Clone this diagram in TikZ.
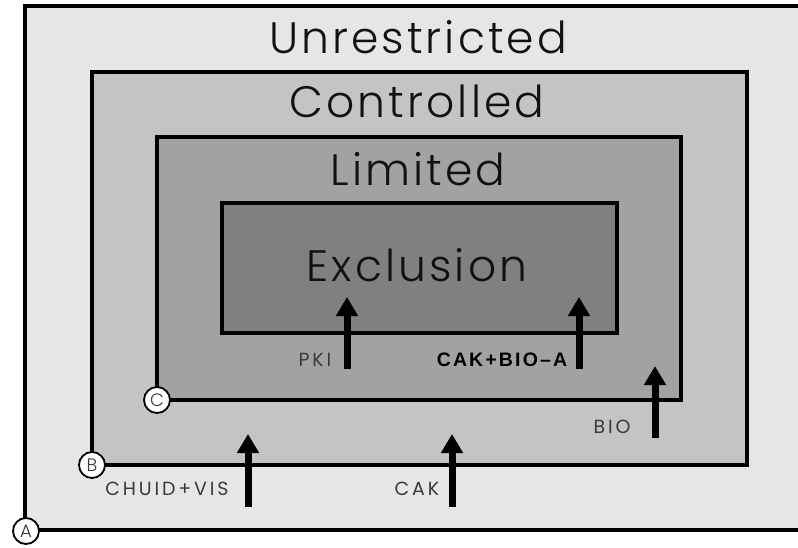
\documentclass[tikz,border=0pt]{standalone}
\usepackage{fontspec}
\IfFontExistsTF{Poppins Light}{\setmainfont{Poppins Light}}{\setmainfont{Poppins}}
\newfontfamily\lblfont{Poppins}[LetterSpace=15]
\newfontfamily\arialbold{Liberation Sans}[UprightFont=*-Bold,LetterSpace=11]
\usetikzlibrary{arrows.meta}
\definecolor{zoneA}{HTML}{E6E6E6}
\definecolor{zoneB}{HTML}{C4C4C4}
\definecolor{zoneC}{HTML}{A2A2A2}
\definecolor{zoneD}{HTML}{808080}
\definecolor{txtdark}{HTML}{111111}
\definecolor{txtgray}{HTML}{3A3A3A}
\begin{document}
\begin{tikzpicture}[x=1pt,y=-1pt,
  zone/.style={draw=black,line width=3.2pt},
  title/.style={anchor=base,text=txtdark,inner sep=0pt,
    font=\fontsize{44}{50}\selectfont\addfontfeatures{LetterSpace=7}},
  lbl/.style={anchor=base,text=txtgray,inner sep=0pt,
    font=\fontsize{19}{22}\lblfont},
  blbl/.style={anchor=base,text=black,inner sep=0pt,
    font=\fontsize{19.5}{22}\arialbold},
  corner/.style={circle,draw=black,fill=white,line width=1.8pt,minimum size=26pt,inner sep=0pt,
    text=txtgray,font=\fontsize{18}{20}\selectfont},
  uparrow/.style={line width=7pt,-{Triangle[width=21pt,length=19pt]}}]
\useasboundingbox (0,0) rectangle (798,547);
\clip (0,0) rectangle (798,547);
\fill[white] (0,0) rectangle (798,547);
% zones
\draw[zone,fill=zoneA] (25,6) rectangle (812,530);
\draw[zone,fill=zoneB] (92,72) rectangle (747,465);
\draw[zone,fill=zoneC] (157,137) rectangle (681,400);
\draw[zone,fill=zoneD] (222,203) rectangle (617,333);
% titles
\node[title] (tU) at (418,53) {Unrestricted};
\node[title] (tC) at (417,117) {Controlled};
\node[title] (tL) at (418,185) {Limited};
\node[title] (tE) at (417,281) {Exclusion};
% arrows
\coordinate (pkiS) at (347,369);  \coordinate (pkiE) at (347,297);
\coordinate (cbS) at (579,369);   \coordinate (cbE) at (579,297);
\coordinate (bioS) at (655,438);  \coordinate (bioE) at (655,366);
\coordinate (chS) at (248,507);   \coordinate (chE) at (248,434);
\coordinate (cakS) at (452,507);  \coordinate (cakE) at (452,434);
\draw[uparrow] (pkiS) -- (pkiE);
\draw[uparrow] (cbS) -- (cbE);
\draw[uparrow] (bioS) -- (bioE);
\draw[uparrow] (chS) -- (chE);
\draw[uparrow] (cakS) -- (cakE);
% labels
\node[lbl] (lPKI) at (315,366) {PKI};
\node[blbl] (lCB) at (502,366) {CAK+BIO–A};
\node[lbl] (lBIO) at (612,433) {BIO};
\node[lbl] (lCH) at (167,495) {CHUID+VIS};
\node[lbl] (lCAK) at (417,495) {CAK};
% corner markers
\node[corner] (cA) at (26,531) {A};
\node[corner] (cB) at (92,465) {B};
\node[corner] (cC) at (157,400) {C};
\end{tikzpicture}
\end{document}
